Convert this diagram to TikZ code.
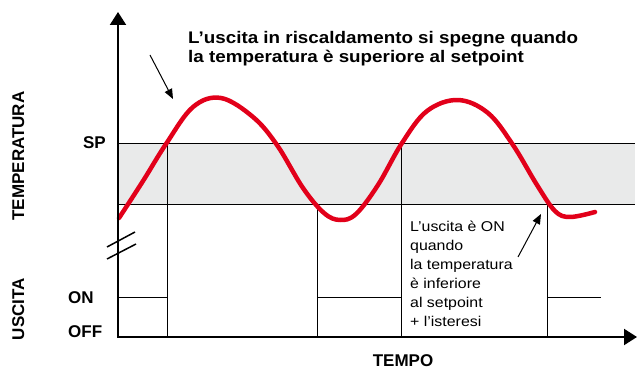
\documentclass[tikz,border=0pt]{standalone}
\usepackage{fontspec}
\setmainfont{Liberation Sans}
\newfontfamily\widefont[FakeStretch=1.12]{Liberation Sans}
\usetikzlibrary{arrows.meta}
\definecolor{curvered}{HTML}{E2001A}
\definecolor{bandgrey}{HTML}{E9EAEA}
\begin{document}
\begin{tikzpicture}[x=1pt,y=-1pt,
  axisline/.style={line width=2pt,line join=miter,{Triangle[length=13pt,width=16pt]}-{Triangle[length=13pt,width=16pt]}},
  thinline/.style={line width=0.9pt},
  lbl/.style={font=\fontsize{17}{17}\selectfont\bfseries, inner sep=0pt},
  titletext/.style={font=\widefont\fontsize{16.8}{16.8}\selectfont\bfseries, inner sep=0pt, anchor=base west},
  infotext/.style={font=\widefont\fontsize{14.2}{14.2}\selectfont, inner sep=0pt, anchor=base west},
  pointer/.style={line width=1pt,-{Triangle[length=10pt,width=8pt]}},
  breakmark/.style={line width=1.5pt}]
\useasboundingbox (0,0) rectangle (638,369);
% band
\fill[bandgrey] (118,143) rectangle (635,204);
\coordinate (sp0) at (118,143); \coordinate (sp1) at (635,143);
\coordinate (lo0) at (118,204); \coordinate (lo1) at (635,204);
\draw[thinline] (sp0) -- (sp1);
\draw[thinline] (lo0) -- (lo1);
% vertical switching lines
\coordinate (v1t) at (167,143); \coordinate (v1b) at (167,337);
\coordinate (v2t) at (317,204); \coordinate (v2b) at (317,337);
\coordinate (v3t) at (401,143); \coordinate (v3b) at (401,337);
\coordinate (v4t) at (547,204); \coordinate (v4b) at (547,337);
\draw[thinline] (v1t) -- (v1b);
\draw[thinline] (v2t) -- (v2b);
\draw[thinline] (v3t) -- (v3b);
\draw[thinline] (v4t) -- (v4b);
% ON segments
\coordinate (on0) at (118,297); \coordinate (on1) at (167,297);
\coordinate (on2) at (317,297); \coordinate (on3) at (401,297);
\coordinate (on4) at (547,297); \coordinate (on5) at (601,297);
\draw[thinline] (on0) -- (on1);
\draw[thinline] (on2) -- (on3);
\draw[thinline] (on4) -- (on5);
% temperature curve
\draw[curvered, line width=4.5pt, line cap=round, line join=round]
  plot[smooth, tension=0.6] coordinates {
  (119,218) (143,181) (166,144) (193,107) (221,98)
  (253,117) (277,145) (303,188) (324,213) (340,220)
  (356,214) (378,185) (402,143) (427,111) (458,100)
  (488,113) (513,145) (537,185) (555,211) (570,217) (595,212)};
% axes
\coordinate (ytop) at (118,12);
\coordinate (orig) at (118,337);
\coordinate (xend) at (637,337);
\draw[axisline] (ytop) -- (orig) -- (xend);
% break marks
\coordinate (b1a) at (107,247); \coordinate (b1b) at (135,232);
\coordinate (b2a) at (107,259); \coordinate (b2b) at (136,244);
\draw[breakmark] (b1a) -- (b1b);
\draw[breakmark] (b2a) -- (b2b);
% labels
\node[lbl, anchor=base east] (splbl) at (106,149) {SP};
\node[lbl, anchor=base west] (onlbl) at (68,303) {ON};
\node[lbl, anchor=base west] (offlbl) at (68,337) {OFF};
\node[lbl, rotate=90, anchor=base] (templbl) at (24,156) {TEMPERATURA};
\node[lbl, rotate=90, anchor=base] (usclbl) at (24,309) {USCITA};
\node[lbl, anchor=base] (tempolbl) at (403,366) {TEMPO};
% title
\node[titletext] (title1) at (188,44) {L’uscita in riscaldamento si spegne quando};
\node[titletext] (title2) at (188,63) {la temperatura è superiore al setpoint};
% info text
\node[infotext] (info1) at (410,231) {L’uscita è ON};
\node[infotext] (info2) at (410,250) {quando};
\node[infotext] (info3) at (410,269) {la temperatura};
\node[infotext] (info4) at (410,288) {è inferiore};
\node[infotext] (info5) at (410,307) {al setpoint};
\node[infotext] (info6) at (410,326) {+ l’isteresi};
% pointers
\coordinate (p1s) at (150,55); \coordinate (p1e) at (173,99);
\coordinate (p2s) at (518,257); \coordinate (p2e) at (541,214);
\draw[pointer] (p1s) -- (p1e);
\draw[pointer] (p2s) -- (p2e);
\end{tikzpicture}
\end{document}
